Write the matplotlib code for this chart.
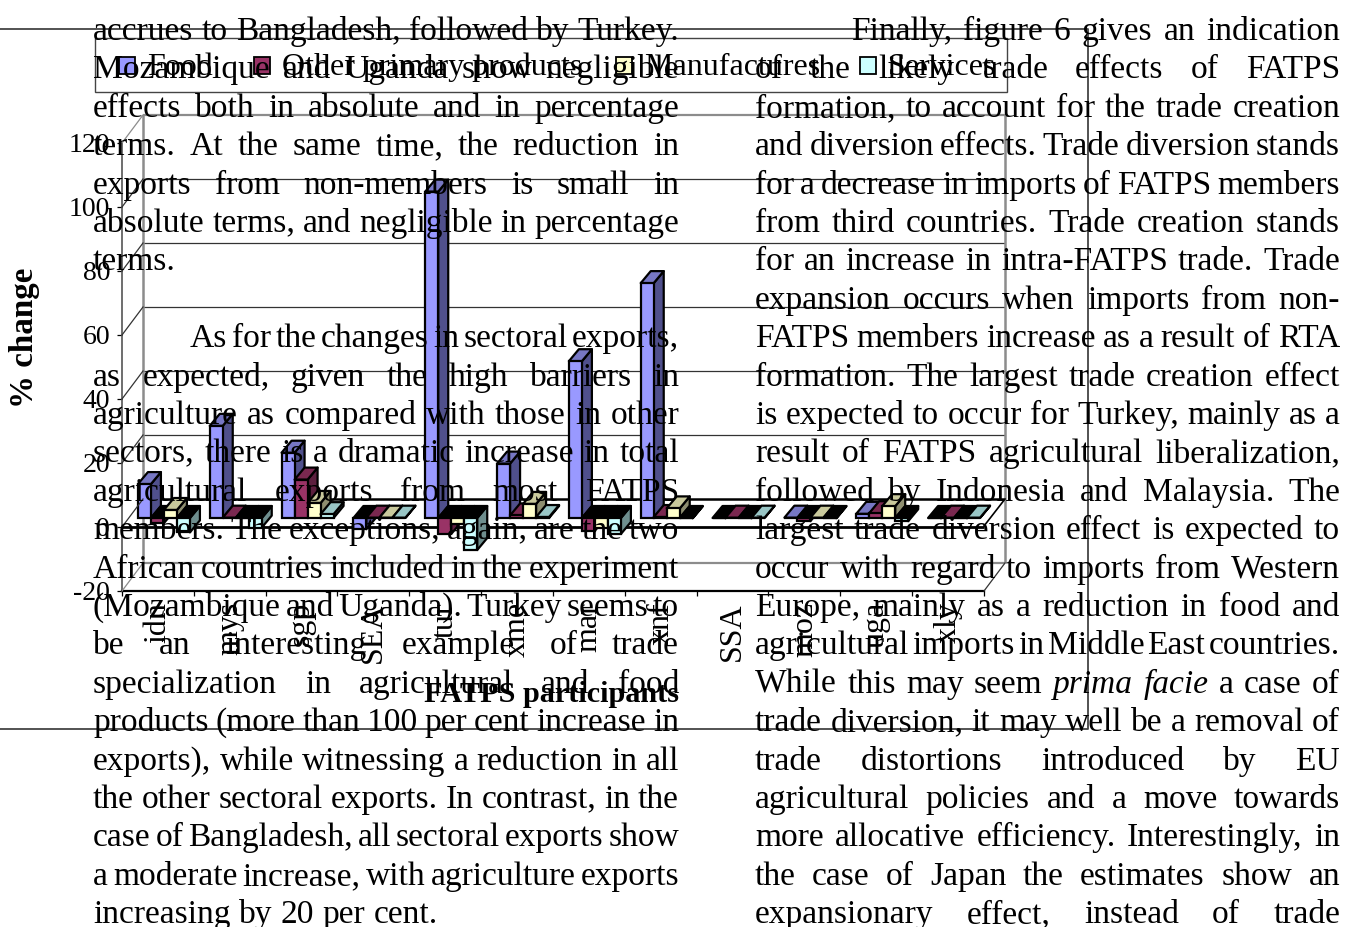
import matplotlib
matplotlib.use('Agg')
from matplotlib import pyplot as plt
from matplotlib.patches import Polygon, Rectangle

matplotlib.rcParams['font.family'] = 'Liberation Serif'

categories = ['idn', 'mys', 'sgp', 'SEA', 'tur', 'xme', 'mar', 'xnf', 'SSA', 'moz', 'uga', 'xly']
food = [10.6, 28.8, 20.4, -3.5, 102, 17, 49, 73.4, -0.1, 0.1, 1.3, -0.1]
other_primary = [-1.6, 0.1, 12, 0.1, -5, 0.8, -4, 0.3, 0.1, -1, 1.5, 0.1]
manufactures = [2.5, -0.1, 4.7, 0.1, -2, 4.4, -3, 3, -0.1, 0.1, 3.7, -0.1]
services = [-4.5, -3, 1.2, 0.1, -10, 0.3, -5, -0.1, 0.1, -0.1, -1, 0.1]
y_ticks = [-20, 0, 20, 40, 60, 80, 100, 120]

series_names = ['Food', 'Other primary products', 'Manufactures', 'Services']
legend_x = [119, 254, 616, 860]
front_colors = ['#9999FF', '#993366', '#FFFFCC', '#CCFFFF']
top_colors = ['#7777C4', '#7A2850', '#C9C99C', '#99C6C6']
side_colors = ['#50508C', '#5C1F3E', '#8E8E70', '#6E8E8E']

left_lines = [
    'accrues to Bangladesh, followed by Turkey.',
    'Mozambique and Uganda show negligible',
    'effects both in absolute and in percentage',
    'terms. At the same time, the reduction in',
    'exports from non-members is small in',
    'absolute terms, and negligible in percentage',
    'terms.',
    '',
    'As for the changes in sectoral exports,',
    'as expected, given the high barriers in',
    'agriculture as compared with those in other',
    'sectors, there is a dramatic increase in total',
    'agricultural exports from most FATPS',
    'members. The exceptions, again, are the two',
    'African countries included in the experiment',
    '(Mozambique and Uganda). Turkey seems to',
    'be an interesting example of trade',
    'specialization in agricultural and food',
    'products (more than 100 per cent increase in',
    'exports), while witnessing a reduction in all',
    'the other sectoral exports. In contrast, in the',
    'case of Bangladesh, all sectoral exports show',
    'a moderate increase, with agriculture exports',
    'increasing by 20 per cent.',
]
right_lines = [
    'Finally, figure 6 gives an indication',
    'of the likely trade effects of FATPS',
    'formation, to account for the trade creation',
    'and diversion effects. Trade diversion stands',
    'for a decrease in imports of FATPS members',
    'from third countries. Trade creation stands',
    'for an increase in intra-FATPS trade. Trade',
    'expansion occurs when imports from non-',
    'FATPS members increase as a result of RTA',
    'formation. The largest trade creation effect',
    'is expected to occur for Turkey, mainly as a',
    'result of FATPS agricultural liberalization,',
    'followed by Indonesia and Malaysia. The',
    'largest trade diversion effect is expected to',
    'occur with regard to imports from Western',
    'Europe, mainly as a reduction in food and',
    'agricultural imports in Middle East countries.',
    'While this may seem prima facie a case of',
    'trade diversion, it may well be a removal of',
    'trade distortions introduced by EU',
    'agricultural policies and a move towards',
    'more allocative efficiency. Interestingly, in',
    'the case of Japan the estimates show an',
    'expansionary effect, instead of trade',
]
italic_words = ['prima', 'facie']
short_lines = ['terms.', 'increasing by 20 per cent.']

W, H = 1345, 927
PX_PER_UNIT = 3.2
CAT_W = 71.83
BAR_W = 13 / CAT_W
DEPTH_X = 10 / CAT_W
DEPTH_Y = 12 / PX_PER_UNIT
TEXT_SIZE = 24.1
LABEL_SIZE = 20
LEGEND_SIZE = 23
CAT_SIZE = 23


def plane_axes(fig, x0, y_bottom, zorder):
    height = PX_PER_UNIT * (y_ticks[-1] - y_ticks[0])
    ax = fig.add_axes([x0 / W, (H - y_bottom) / H, CAT_W * len(categories) / W, height / H], zorder=zorder)
    ax.set_xlim(0, len(categories))
    ax.set_ylim(y_ticks[0], y_ticks[-1])
    ax.patch.set_alpha(0)
    return ax


def draw_bar(ax, x, value, k):
    low, top = min(value, 0), max(value, 0)
    right = x + BAR_W
    edge = dict(edgecolor='black', linewidth=1.6, joinstyle='round', clip_on=False)
    ax.add_patch(Polygon([(right, low), (right + DEPTH_X, low + DEPTH_Y), (right + DEPTH_X, top + DEPTH_Y), (right, top)],
                         facecolor=side_colors[k], **edge))
    top_color = top_colors[k] if value >= 0 else 'black'
    ax.add_patch(Polygon([(x, top), (x + DEPTH_X, top + DEPTH_Y), (right + DEPTH_X, top + DEPTH_Y), (right, top)],
                         facecolor=top_color, **edge))
    ax.bar(x, value, BAR_W, align='edge', color=front_colors[k], edgecolor='black', linewidth=1.6, clip_on=False)


def draw_column(page, renderer, lines, x_left, x_right, indents):
    for row, line in enumerate(lines):
        if not line:
            continue
        baseline = 40 + row * 38.4
        start = indents.get(row, x_left)
        words = []
        for word in line.split():
            style = 'italic' if word in italic_words else 'normal'
            words.append(page.text(start, baseline, word, fontsize=TEXT_SIZE, style=style, ha='left', va='baseline', color='black', zorder=10))
        widths = [t.get_window_extent(renderer).width for t in words]
        if line in short_lines or len(words) == 1:
            gap = TEXT_SIZE * 100 / 72 * 0.25
        else:
            gap = (x_right - start - sum(widths)) / (len(words) - 1)
        x = start
        for t, width in zip(words, widths):
            t.set_x(x)
            x += width + gap


fig = plt.figure(figsize=(W / 100, H / 100), dpi=100, facecolor='white')

# back wall, pushed back from the front plane
back = plane_axes(fig, 143, 563, 1)
back.axis('off')
back.hlines([v for v in y_ticks if v not in (-20, 0, 120)], 0, len(categories), color='#333333', linewidth=0.9, clip_on=False)
back.hlines([-20, 120], 0, len(categories), color='#8c8c8c', linewidth=1.6, clip_on=False)
back.hlines(0, 0, len(categories), color='black', linewidth=1.8, clip_on=False)
back.vlines([0, len(categories)], y_ticks[0], y_ticks[-1], color='#8c8c8c', linewidth=1.8, clip_on=False)

# front plane holds the axes, ticks and labels
ax = plane_axes(fig, 122, 591, 2)
ax.spines['top'].set_visible(False)
ax.spines['right'].set_visible(False)
ax.spines['left'].set_color('#555555')
ax.spines['left'].set_linewidth(1.2)
ax.spines['bottom'].set_linewidth(1.6)
ax.hlines(0, 0, len(categories), color='black', linewidth=2, clip_on=False)
ax.set_yticks(y_ticks)
ax.set_yticklabels([str(v) for v in y_ticks], fontsize=LABEL_SIZE)
ax.tick_params(axis='y', length=3.6, width=0.9, pad=5)
ax.set_xticks(range(len(categories) + 1))
ax.set_xticklabels([])
ax.tick_params(axis='x', length=3.6, width=0.9)
ax.set_xticks([i + 0.5 for i in range(len(categories))], minor=True)
ax.set_xticklabels(categories, minor=True, rotation=90, fontsize=CAT_SIZE, va='top')
ax.tick_params(axis='x', which='minor', length=0, pad=8)

# bars stand a little behind the front plane
bars = plane_axes(fig, 128, 582, 3)
bars.axis('off')
all_series = [food, other_primary, manufactures, services]
group_w = BAR_W * len(all_series)
for i in range(len(categories)):
    x_start = i + 0.5 - group_w / 2
    for k, values in enumerate(all_series):
        draw_bar(bars, x_start + k * BAR_W, values[i], k)

page = fig.add_axes([0, 0, 1, 1], zorder=4)
page.set_xlim(0, W)
page.set_ylim(H, 0)
page.axis('off')
page.patch.set_alpha(0)

# chart frame, cut off at the left edge of the page
page.plot([0, 1088, 1088, 0], [29, 29, 728.5, 728.5], color='#444444', linewidth=1.3)

# left and right wall lines running from the front plane to the back wall
for v in y_ticks:
    y_front = 591 - (v - y_ticks[0]) * PX_PER_UNIT
    color = '#8c8c8c' if v == y_ticks[-1] or v == y_ticks[0] else '#333333'
    page.plot([122, 143], [y_front, y_front - 28], color=color, linewidth=0.9)
page.plot([984, 1005], [591, 563], color='#333333', linewidth=0.9)
page.plot([984, 1005], [526, 499], color='black', linewidth=1.2)

page.add_patch(Rectangle((95, 38), 912, 54, facecolor='none', edgecolor='#444444', linewidth=1))
for name, x, color in zip(series_names, legend_x, front_colors):
    page.add_patch(Rectangle((x, 57), 16, 17, facecolor=color, edgecolor='black', linewidth=1.3))
    page.text(x + 28, 75, name, fontsize=LEGEND_SIZE, ha='left', va='baseline')

page.text(25, 338, '% change', fontsize=23.8, fontweight='bold', rotation=90, ha='center', va='center')
page.text(551, 702, 'FATPS participants', fontsize=21.8, fontweight='bold', ha='center', va='baseline')

renderer = fig.canvas.get_renderer()
draw_column(page, renderer, left_lines, 93, 679, {8: 190})
draw_column(page, renderer, right_lines, 755, 1340, {0: 851})

plt.savefig('out.png', dpi=100)
plt.close()
